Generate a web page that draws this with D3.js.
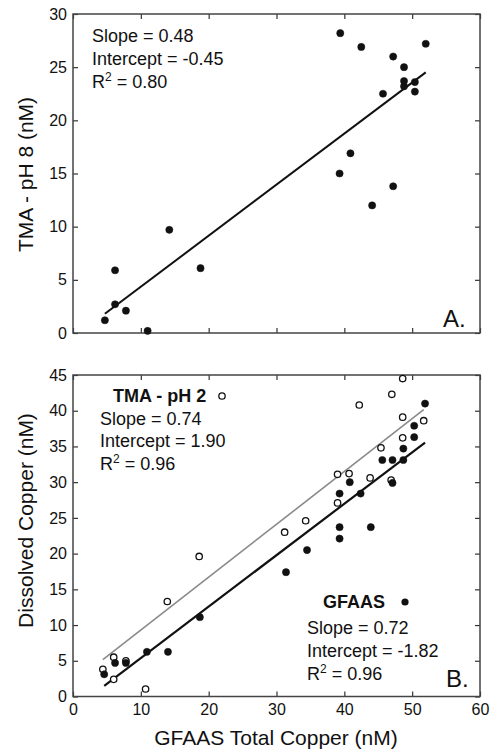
<!DOCTYPE html>
<html>
<head>
<meta charset="utf-8">
<script src="https://cdn.jsdelivr.net/npm/d3@7"></script>
<style>
    body { margin: 0; background: white; }
    svg text { font-family: Arial, "Liberation Sans", Helvetica, sans-serif; fill: #111; }
</style>
</head>
<body>
<svg id="chart" width="490" height="751"></svg>
<script>
// Data - panel A (TMA pH 8 vs GFAAS total copper)
const totalCopperA = [39.4, 42.5, 52.0, 47.2, 48.8, 48.8, 48.8, 50.4, 50.4, 45.7, 40.9, 39.3, 47.2, 44.1, 14.2, 18.8, 6.2, 6.2, 7.8, 4.7, 11.0];
const tmaPh8 = [28.2, 26.9, 27.2, 26.0, 25.0, 23.7, 23.2, 23.6, 22.7, 22.5, 16.9, 15.0, 13.8, 12.0, 9.7, 6.1, 5.9, 2.7, 2.1, 1.2, 0.2];

// Data - panel B, open circles (TMA pH 2)
const totalCopperOpen = [48.6, 47.0, 42.2, 48.6, 51.7, 48.6, 45.4, 39.0, 40.7, 43.8, 46.9, 39.0, 34.3, 31.2, 18.6, 13.9, 6.0, 4.4, 6.0, 10.7, 7.8];
const tmaPh2 = [44.5, 42.3, 40.8, 39.1, 38.6, 36.2, 34.8, 31.1, 31.2, 30.6, 30.3, 27.1, 24.6, 23.0, 19.6, 13.3, 5.5, 3.8, 2.4, 1.05, 5.0];

// Data - panel B, filled circles (GFAAS dissolved)
const totalCopperFilled = [51.9, 50.3, 50.3, 48.7, 45.6, 47.1, 48.7, 47.1, 40.8, 39.3, 42.4, 39.3, 43.9, 39.3, 34.5, 31.4, 18.7, 10.9, 14.0, 6.2, 7.8, 4.6];
const gfaasDissolved = [41.0, 37.9, 36.3, 34.7, 33.1, 33.1, 33.1, 29.9, 30.0, 28.4, 28.4, 23.7, 23.7, 22.1, 20.5, 17.4, 11.1, 6.25, 6.25, 4.7, 4.7, 3.1];

// Regression fits: [slope, intercept, r2]
const fitA = [0.48, -0.45, '0.80'];
const fitOpen = [0.74, 1.90, '0.96'];
const fitFilled = [0.72, -1.82, '0.96'];

const xTicks = [0, 10, 20, 30, 40, 50, 60];
const yTicksA = [0, 5, 10, 15, 20, 25, 30];
const yTicksB = [0, 5, 10, 15, 20, 25, 30, 35, 40, 45];

// Layout constants
const LEFT = 73, RIGHT = 480;
const TICK = 5;
const DOT_R = 3.6;

const svg = d3.select('#chart');

const x = d3.scaleLinear().domain([0, 60]).range([LEFT, RIGHT]);
const yA = d3.scaleLinear().domain([0, 30]).range([333, 14]);
const yB = d3.scaleLinear().domain([0, 45]).range([696.5, 375]);

function frame(y, yTicks, showX) {
    const g = svg.append('g');
    const [y0, y1] = y.range();

    // inward ticks on all sides
    const ax = [
        d3.axisLeft(y).tickValues(yTicks).tickSizeInner(-TICK).tickSizeOuter(0).tickPadding(6).tickFormat(d3.format('d')),
    ];
    g.append('g').attr('transform', 'translate(' + LEFT + ',0)').call(ax[0]);
    g.append('g').attr('transform', 'translate(' + RIGHT + ',0)')
        .call(d3.axisRight(y).tickValues(yTicks).tickSizeInner(-TICK).tickSizeOuter(0).tickFormat(''));
    g.append('g').attr('transform', 'translate(0,' + y0 + ')')
        .call(d3.axisBottom(x).tickValues(xTicks).tickSizeInner(-TICK).tickSizeOuter(0).tickPadding(7)
            .tickFormat(showX ? d3.format('d') : ''));
    g.append('g').attr('transform', 'translate(0,' + y1 + ')')
        .call(d3.axisTop(x).tickValues(xTicks).tickSizeInner(-TICK).tickSizeOuter(0).tickFormat(''));

    g.selectAll('.domain').remove();
    g.selectAll('.tick line').attr('stroke', '#333').attr('stroke-width', 1.2);
    g.selectAll('.tick text').attr('font-size', 16).attr('fill', '#111')
        .style('font-family', 'Arial, "Liberation Sans", sans-serif');

    // box
    g.append('rect')
        .attr('x', LEFT).attr('y', y1)
        .attr('width', RIGHT - LEFT).attr('height', y0 - y1)
        .attr('fill', 'none')
        .attr('stroke', '#444')
        .attr('stroke-width', 1.5);
    return g;
}

function fitLine(y, xs, fit, color, width) {
    const ext = d3.extent(xs);
    svg.append('line')
        .attr('x1', x(ext[0])).attr('y1', y(fit[0] * ext[0] + fit[1]))
        .attr('x2', x(ext[1])).attr('y2', y(fit[0] * ext[1] + fit[1]))
        .attr('stroke', color)
        .attr('stroke-width', width);
}

function dots(y, xs, ys, open) {
    svg.append('g').selectAll('circle')
        .data(xs.map((v, i) => [v, ys[i]]))
        .enter().append('circle')
            .attr('cx', (d) => x(d[0]))
            .attr('cy', (d) => y(d[1]))
            .attr('r', open ? DOT_R - 0.4 : DOT_R)
            .attr('fill', open ? 'white' : '#111')
            .attr('stroke', '#111')
            .attr('stroke-width', open ? 1.3 : 0.5);
}

function stats(px, py, fit, step) {
    const t = svg.append('g').attr('font-size', 18);
    t.append('text').attr('x', px).attr('y', py).text('Slope = ' + fit[0].toFixed(2));
    t.append('text').attr('x', px).attr('y', py + step).text('Intercept = ' + fit[1].toFixed(2));
    const r = t.append('text').attr('x', px).attr('y', py + step * 2);
    r.append('tspan').text('R');
    r.append('tspan').attr('font-size', 12).attr('dy', -7).text('2');
    r.append('tspan').attr('dy', 7).text(' = ' + fit[2]);
}

// Panel A
frame(yA, yTicksA, false);
fitLine(yA, totalCopperA, fitA, '#111', 2);
dots(yA, totalCopperA, tmaPh8, false);
stats(92, 42, fitA, 23);
svg.append('text').attr('x', 443).attr('y', 327).attr('font-size', 24).text('A.');

// Panel B
frame(yB, yTicksB, true);
fitLine(yB, totalCopperOpen, fitOpen, '#8a8a8a', 1.6);
fitLine(yB, totalCopperFilled, fitFilled, '#111', 2.2);
dots(yB, totalCopperOpen, tmaPh2, true);
dots(yB, totalCopperFilled, gfaasDissolved, false);

svg.append('text').attr('x', 113).attr('y', 402).attr('font-size', 18).attr('font-weight', 'bold').text('TMA - pH 2');
svg.append('circle').attr('cx', 222).attr('cy', 396).attr('r', DOT_R - 0.4)
    .attr('fill', 'white').attr('stroke', '#111').attr('stroke-width', 1.3);
stats(100, 424.5, fitOpen, 22.5);

svg.append('text').attr('x', 323).attr('y', 608).attr('font-size', 18).attr('font-weight', 'bold').text('GFAAS');
svg.append('circle').attr('cx', 405).attr('cy', 602).attr('r', DOT_R).attr('fill', '#111');
stats(307, 633.5, fitFilled, 23);
svg.append('text').attr('x', 446).attr('y', 687).attr('font-size', 24).text('B.');

// Axis titles
svg.append('text')
    .attr('transform', 'translate(33,174.5) rotate(-90)')
    .attr('text-anchor', 'middle')
    .attr('font-size', 21)
    .text('TMA - pH 8 (nM)');
svg.append('text')
    .attr('transform', 'translate(33,520.5) rotate(-90)')
    .attr('text-anchor', 'middle')
    .attr('font-size', 21)
    .text('Dissolved Copper (nM)');
svg.append('text')
    .attr('x', 276).attr('y', 745)
    .attr('text-anchor', 'middle')
    .attr('font-size', 21)
    .text('GFAAS Total Copper (nM)');
</script>
</body>
</html>
